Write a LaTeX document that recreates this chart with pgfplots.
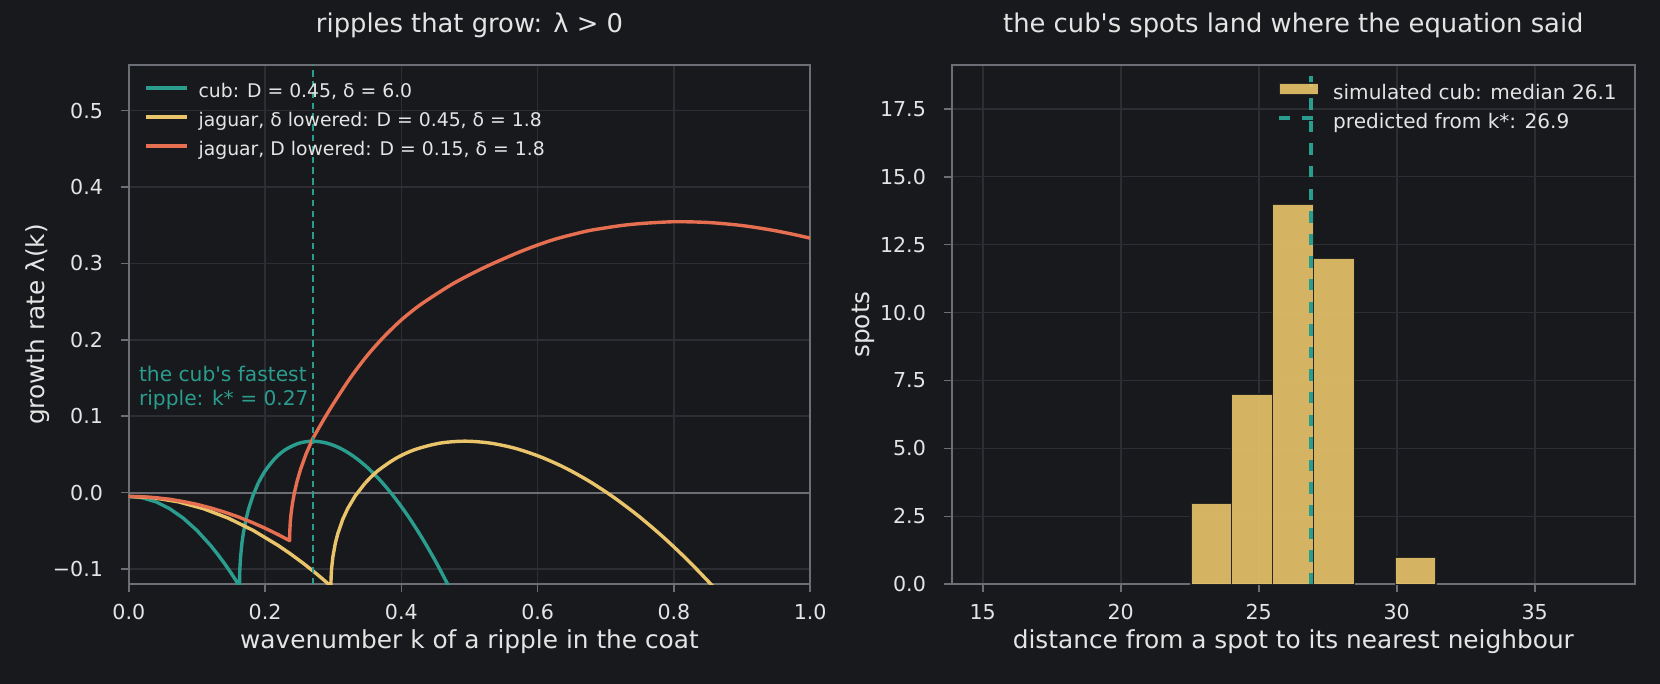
\documentclass[border=0pt]{standalone}
\usepackage{fontspec}
\setmainfont{DejaVu Sans}[Ligatures=TeXOff]
\usepackage{pgfplots}
\pgfplotsset{compat=1.18}

\definecolor{bg}{HTML}{18191C}
\definecolor{spine}{HTML}{6B6E75}
\definecolor{gridc}{HTML}{2C2E33}
\definecolor{txt}{HTML}{E4E4E4}
\definecolor{cteal}{HTML}{2A9D8F}
\definecolor{cyel}{HTML}{E9C46A}
\definecolor{cora}{HTML}{E76F51}

\tikzset{
  curve/.style={line width=1.7bp, line join=round},
  note/.style={anchor=base west, inner sep=0pt, text=cteal,
    font=\fontsize{10.1bp}{12bp}\selectfont},
}
\pgfplotsset{
  panel/.style={
    scale only axis, anchor=south west,
    axis line style={draw=spine, line width=0.85bp},
    grid=major, major grid style={draw=gridc, line width=0.8bp},
    tick align=outside, major tick length=4bp,
    tick style={draw=spine, line width=0.85bp},
    xtick pos=left, ytick pos=left,
    ticklabel style={font=\fontsize{10.3bp}{12bp}\selectfont, text=txt, inner sep=0pt},
    xticklabel style={anchor=base, yshift=-13.8bp},
    yticklabel style={anchor=east, xshift=-8.7bp},
    label style={font=\fontsize{12.4bp}{14bp}\selectfont, text=txt},
    xlabel style={at={(axis description cs:0.5,-0.1236)}, anchor=base},
    title style={at={(axis description cs:0.5,1.0385)}, anchor=base,
      font=\fontsize{12.9bp}{15bp}\selectfont, text=txt},
    legend cell align=left,
  },
}

\begin{document}
\begin{tikzpicture}
\fill[bg] (0,0) rectangle (830bp,342bp);
\useasboundingbox (0,0) rectangle (830bp,342bp);

% left: growth rate against wavenumber
\begin{axis}[panel,
  at={(64.4bp,49.85bp)}, width=340.7bp, height=259.8bp,
  xmin=0, xmax=1, ymin=-0.12, ymax=0.56,
  xtick={0,0.2,0.4,0.6,0.8,1}, xticklabels={0.0,0.2,0.4,0.6,0.8,1.0},
  ytick={-0.1,0,0.1,0.2,0.3,0.4,0.5},
  yticklabels={−0.1,0.0,0.1,0.2,0.3,0.4,0.5},
  title={ripples that grow: λ > 0},
  xlabel={wavenumber k of a ripple in the coat},
  ylabel={growth rate λ(k)},
  ylabel style={at={(axis description cs:-0.1237,0.5)}, anchor=base},
  legend image code/.code={\draw[#1, line cap=rect] (0bp,2.45bp) -- (18.6bp,2.45bp);},
  legend style={at={(axis description cs:0.0254,0.9638)}, anchor=north west,
    draw=none, fill=none, inner sep=0pt, outer sep=0pt,
    row sep=5.2bp, column sep=5.95bp,
    font=\fontsize{9.4bp}{11bp}\selectfont, text=txt,
    nodes={inner sep=0pt, text height=7.1bp, text depth=2.2bp}},
]
\addplot[forget plot, draw=spine, line width=1bp] coordinates {(0,0) (1,0)};

\addplot[cteal, curve] coordinates {
  (0,-0.005) (0.02,-0.00678) (0.04,-0.01212) (0.06,-0.02102) (0.08,-0.03348)
  (0.10,-0.0495) (0.12,-0.06908) (0.13,-0.0802) (0.14,-0.09222) (0.15,-0.10513)
  (0.155,-0.1119) (0.16,-0.11892) (0.16248,-0.1225)
  (0.1626,-0.1114) (0.163,-0.0998) (0.164,-0.0846) (0.166,-0.0664) (0.168,-0.0537)
  (0.172,-0.0349) (0.176,-0.0208) (0.182,-0.0043) (0.19,0.0125)
};
\addlegendentry{cub: D = 0.45, δ = 6.0}
\addplot[cteal, curve, smooth, forget plot] coordinates {
  (0.19,0.0125) (0.2,0.0283) (0.215,0.0451) (0.23,0.0563) (0.25,0.0647)
  (0.27,0.0673) (0.29,0.0649) (0.31,0.0582) (0.33,0.0474) (0.35,0.0330)
  (0.37,0.0150) (0.39,-0.0064) (0.41,-0.0310) (0.43,-0.0588) (0.45,-0.0896)
  (0.47,-0.1234)
};

\addplot[cyel, curve] coordinates {
  (0,-0.005) (0.0365,-0.00678) (0.0730,-0.01212) (0.1095,-0.02102) (0.1461,-0.03348)
  (0.1826,-0.0495) (0.2191,-0.06908) (0.2373,-0.0802) (0.2556,-0.09222) (0.2739,-0.10513)
  (0.2830,-0.1119) (0.2921,-0.11892) (0.29664,-0.1225)
  (0.29686,-0.1114) (0.29759,-0.0998) (0.29941,-0.0846) (0.30307,-0.0664) (0.30672,-0.0537)
  (0.31402,-0.0349) (0.32132,-0.0208) (0.33228,-0.0043) (0.34688,0.0125)
};
\addlegendentry{jaguar, δ lowered: D = 0.45, δ = 1.8}
\addplot[cyel, curve, smooth, forget plot] coordinates {
  (0.34688,0.0125) (0.36514,0.0283) (0.39253,0.0451) (0.41991,0.0563) (0.45643,0.0647)
  (0.49294,0.0673) (0.52945,0.0649) (0.56597,0.0582) (0.60248,0.0474) (0.639,0.0330)
  (0.67551,0.0150) (0.71202,-0.0064) (0.74854,-0.0310) (0.78505,-0.0588) (0.82157,-0.0896)
  (0.85808,-0.1234)
};

\addplot[cora, curve] coordinates {
  (0,-0.005) (0.02,-0.0054) (0.04,-0.0067) (0.06,-0.0087) (0.08,-0.0117)
  (0.10,-0.0154) (0.12,-0.0200) (0.14,-0.0254) (0.16,-0.0316) (0.18,-0.0387)
  (0.20,-0.0466) (0.22,-0.0553) (0.236,-0.0629)
  (0.2362,-0.0522) (0.237,-0.0387) (0.238,-0.0289) (0.24,-0.0151) (0.243,-0.0003)
  (0.247,0.0150) (0.252,0.0303) (0.26,0.0502) (0.27,0.0707)
};
\addlegendentry{jaguar, D lowered: D = 0.15, δ = 1.8}
\addplot[cora, curve, smooth, forget plot] coordinates {
  (0.27,0.0707) (0.285,0.0940) (0.3,0.1160) (0.325,0.1500) (0.35,0.1795)
  (0.375,0.2045) (0.4,0.2260) (0.425,0.2440) (0.45,0.2590) (0.475,0.2730)
  (0.5,0.2850) (0.525,0.2960) (0.55,0.3060) (0.575,0.3155) (0.6,0.3240)
  (0.625,0.3315) (0.65,0.3375) (0.675,0.3428) (0.7,0.3465) (0.725,0.3498)
  (0.75,0.3520) (0.775,0.3535) (0.8,0.3545) (0.825,0.3543) (0.85,0.3535)
  (0.875,0.3518) (0.9,0.3495) (0.925,0.3463) (0.95,0.3425) (0.975,0.3380)
  (1.0,0.3330)
};

\addplot[forget plot, cteal, line width=0.9bp, dash pattern=on 3.2bp off 2.2bp]
  coordinates {(0.27,-0.12) (0.27,0.56)};

\node[note] at (axis cs:0.0145,0.1448) {the cub's fastest};
\node[note] at (axis cs:0.0145,0.1135) {ripple: k* = 0.27};
\end{axis}

% right: histogram of nearest-neighbour distances
\begin{axis}[panel,
  at={(475.85bp,49.85bp)}, width=341.65bp, height=259.8bp,
  xmin=13.877, xmax=38.634, ymin=0, ymax=19.12,
  xtick={15,20,25,30,35}, xticklabels={15,20,25,30,35},
  ytick={0,2.5,5,7.5,10,12.5,15,17.5},
  yticklabels={0.0,2.5,5.0,7.5,10.0,12.5,15.0,17.5},
  title={the cub's spots land where the equation said},
  xlabel={distance from a spot to its nearest neighbour},
  ylabel={spots},
  ylabel style={at={(axis description cs:-0.1207,0.5)}, anchor=base},
  legend image code/.code={\draw[#1] (0bp,2.575bp) -- (19.65bp,2.575bp);},
  legend style={at={(axis description cs:0.4765,0.9665)}, anchor=north west,
    draw=none, fill=none, inner sep=0pt, outer sep=0pt,
    row sep=4.65bp, column sep=6.6bp,
    font=\fontsize{10.03bp}{12bp}\selectfont, text=txt,
    nodes={inner sep=0pt, text height=7.5bp, text depth=2.35bp}},
]
\addplot[ybar interval, fill=cyel, fill opacity=0.9, draw=bg, draw opacity=0.9,
  line width=0.8bp,
  legend image code/.code={\draw[fill=cyel, fill opacity=0.9, draw=bg, draw opacity=0.9,
    line width=0.8bp] (0bp,-0.425bp) rectangle (19.65bp,5.575bp);}]
  coordinates {(22.54,3) (24.02,7) (25.50,14) (26.99,12) (28.47,12)};
\addlegendentry{simulated cub: median 26.1}
\addplot[ybar interval, forget plot, fill=cyel, fill opacity=0.9, draw=bg, draw opacity=0.9,
  line width=0.8bp]
  coordinates {(29.95,1) (31.43,1)};
\addplot[cteal, line width=1.7bp, dash pattern=on 5.7bp off 5.6bp]
  coordinates {(26.9,0) (26.9,18.75)};
\addlegendentry{predicted from k*: 26.9}
\end{axis}
\end{tikzpicture}
\end{document}
